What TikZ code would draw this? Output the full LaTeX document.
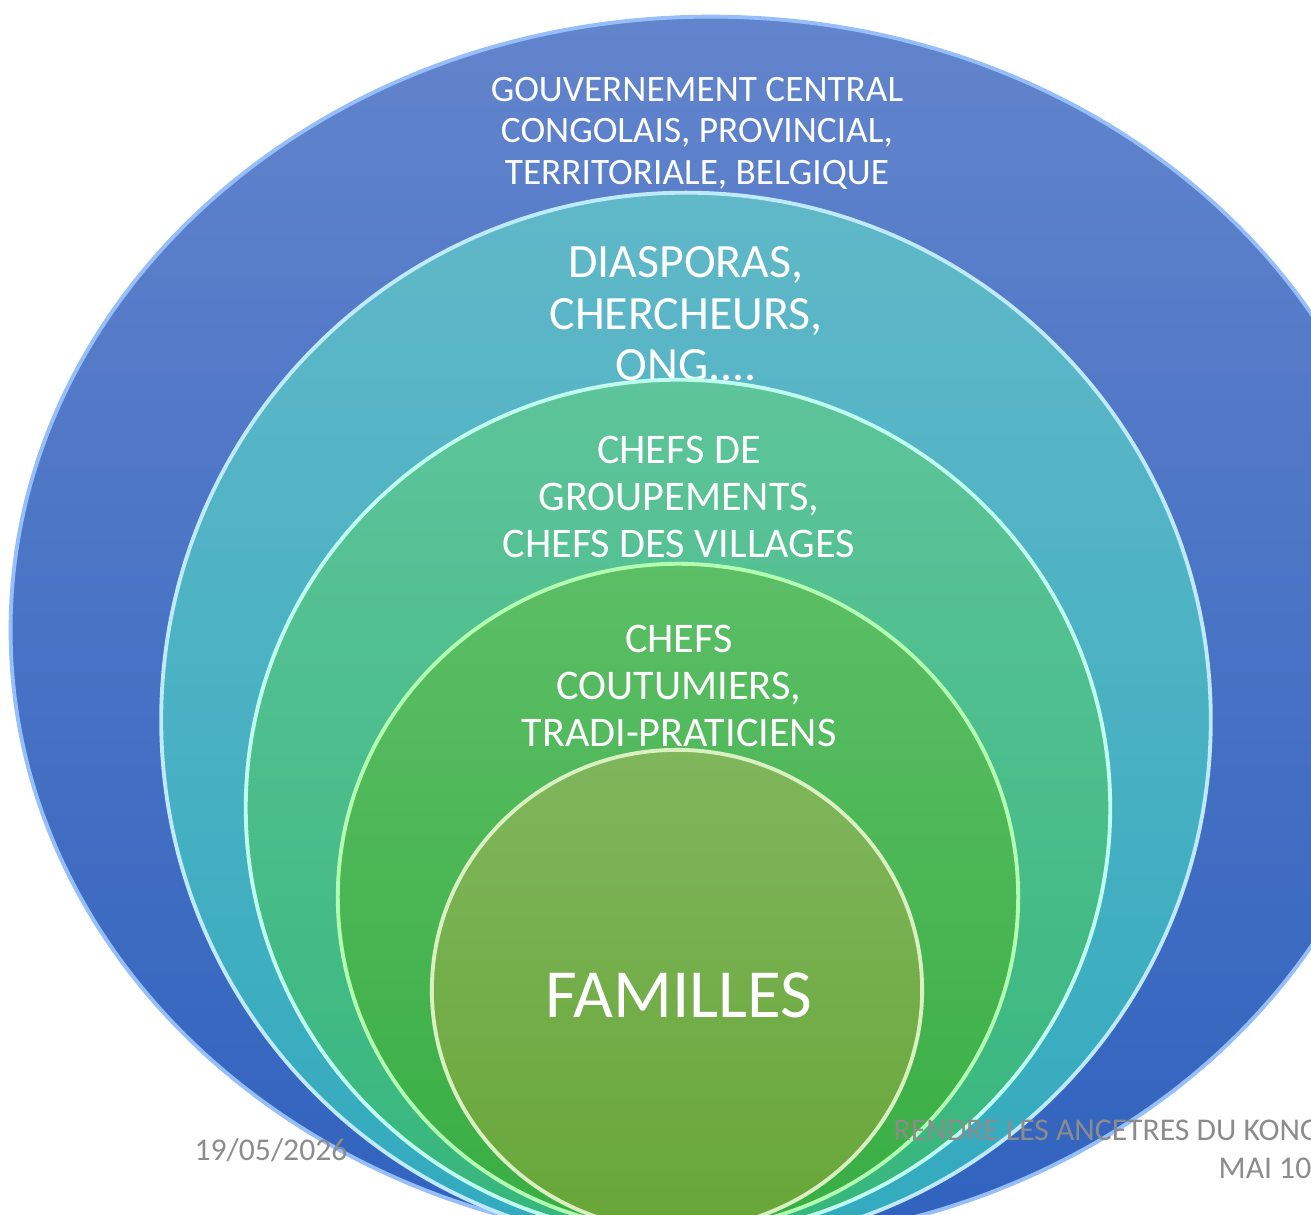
\documentclass[tikz,border=0pt]{standalone}
\usepackage{fontspec}
\setmainfont{Carlito}
\usetikzlibrary{shapes.geometric}
\definecolor{govedge}{RGB}{150,190,250}

\begin{document}
\begin{tikzpicture}[x=0.01cm,y=0.01cm,
  every node/.style = {inner sep=0pt, align=center},
  ring/.style = {ellipse, draw=#1, line width=1.1pt},
  label/.style = {text=white},
  foot/.style = {text=black!45, font=\fontsize{9}{11}\selectfont}]
  \useasboundingbox (0,0) rectangle (1311,1215);
  \node[ring=govedge, top color={rgb,255:red,98;green,132;blue,204},
    bottom color={rgb,255:red,48;green,98;blue,190},
    minimum width=14cm, minimum height=12.26cm] (gov) at (711,585) {};
  \node[label, font=\fontsize{10.6}{11.8}\selectfont] (govtext) at (697,1082)
    {GOUVERNEMENT CENTRAL\\CONGOLAIS, PROVINCIAL,\\TERRITORIALE, BELGIQUE};
  \node[ring=cyan!25!white, top color={rgb,255:red,96;green,184;blue,200},
    bottom color={rgb,255:red,50;green,170;blue,190},
    minimum width=10.49cm, minimum height=10.54cm] (dias) at (686,495) {};
  \node[label, font=\fontsize{13.6}{14.6}\selectfont] (diastext) at (686,901)
    {DIASPORAS,\\CHERCHEURS,\\ONG....};
  \node[ring=green!25!cyan!25!white, top color={rgb,255:red,94;green,196;blue,154},
    bottom color={rgb,255:red,54;green,182;blue,124},
    minimum width=8.64cm, minimum height=8.56cm] (grp) at (678,407) {};
  \node[label, font=\fontsize{12}{13.3}\selectfont] (grptext) at (679,718)
    {CHEFS DE\\GROUPEMENTS,\\CHEFS DES VILLAGES};
  \node[ring=green!30!white, top color={rgb,255:red,92;green,190;blue,102},
    bottom color={rgb,255:red,56;green,174;blue,66},
    minimum width=6.8cm, minimum height=6.66cm] (cout) at (678,318) {};
  \node[label, font=\fontsize{12}{13.3}\selectfont] (couttext) at (679,529)
    {CHEFS\\COUTUMIERS,\\TRADI-PRATICIENS};
  \node[ring=yellow!40!green!25!white, top color={rgb,255:red,128;green,182;blue,92},
    bottom color={rgb,255:red,104;green,166;blue,56},
    minimum width=4.9cm, minimum height=4.8cm] (fam) at (677,225) {};
  \node[label, font=\fontsize{19.6}{22}\selectfont] (famtext) at (679,220) {FAMILLES};
  % pied de page
  \node[foot] (date) at (271,65) {19/05/2026};
  \node[foot, anchor=west] (titre) at (893,85) {RENDRE LES ANCETRES DU KONGO};
  \node[foot, anchor=west] (mai) at (1218,47) {MAI 10};
\end{tikzpicture}
\end{document}
